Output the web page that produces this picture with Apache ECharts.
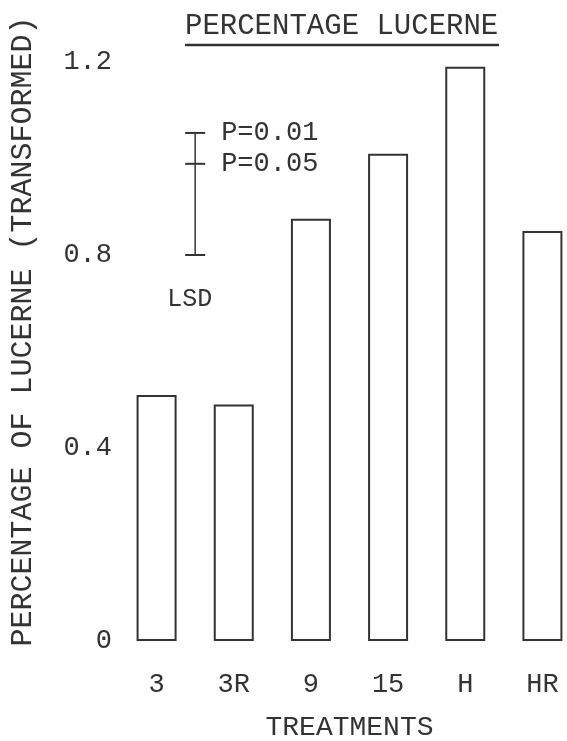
<!DOCTYPE html>
<html>
<head>
<meta charset="utf-8">
<script src="https://cdn.jsdelivr.net/npm/echarts@6/dist/echarts.min.js"></script>
<style>
  html, body { margin: 0; padding: 0; background: #fff; }
  #chart { width: 567px; height: 741px; }
</style>
</head>
<body>
<div id="chart"></div>
<script>
// data
const treatments = ['3', '3R', '9', '15', 'H', 'HR'];
const lucerne = [0.51, 0.49, 0.875, 1.01, 1.19, 0.85];
const yTicks = [0, 0.4, 0.8, 1.2];
// LSD bar: base value, lengths for P=0.01 and P=0.05
const lsdBase = 0.80;
const lsdLengths = [0.253, 0.189];
const lsdLabels = ['P=0.01', 'P=0.05'];

const ink = '#333';
const font = "'Liberation Mono', 'DejaVu Sans Mono', monospace";

const chart = echarts.init(document.getElementById('chart'));

// LSD indicator drawn against the value axis
function renderLsd(params, api) {
	const band = api.size([1, 0])[0];
	const base = api.coord([0, lsdBase]);
	const x = base[0] + band / 2;
	const yTop = api.coord([0, lsdBase + lsdLengths[0]])[1];
	const kids = [{
		type: 'line',
		shape: { x1: x, y1: base[1], x2: x, y2: yTop },
		style: { stroke: ink, lineWidth: 1.5 }
	}, {
		type: 'line',
		shape: { x1: x - 10, y1: base[1], x2: x + 10, y2: base[1] },
		style: { stroke: ink, lineWidth: 2 }
	}];
	lsdLengths.forEach((len, i) => {
		const y = api.coord([0, lsdBase + len])[1];
		kids.push({
			type: 'line',
			shape: { x1: x - 10, y1: y, x2: x + 10, y2: y },
			style: { stroke: ink, lineWidth: 2 }
		});
		kids.push({
			type: 'text',
			x: x + 26, y: y,
			style: { text: lsdLabels[i], fill: ink, font: '27px ' + font, textVerticalAlign: 'middle' }
		});
	});
	const yLsd = api.coord([0, lsdBase - 0.092])[1];
	kids.push({
		type: 'text',
		x: x - 28, y: yLsd,
		style: { text: 'LSD', fill: ink, font: '25px ' + font, textVerticalAlign: 'middle' }
	});
	return { type: 'group', children: kids };
}

const option = {
	animation: false,
	backgroundColor: '#fff',
	title: {
		text: 'PERCENTAGE LUCERNE',
		left: 185,
		top: 12,
		padding: 0,
		textStyle: { fontFamily: font, fontSize: 29, fontWeight: 'normal', color: ink }
	},
	graphic: [{
		type: 'line',
		shape: { x1: 185, y1: 45, x2: 499, y2: 45 },
		style: { stroke: ink, lineWidth: 2.5 }
	}],
	grid: { left: 118, width: 463, top: 62, bottom: 100, outerBoundsMode: 'none' },
	xAxis: {
		type: 'category',
		data: treatments,
		name: 'TREATMENTS',
		nameLocation: 'middle',
		nameGap: 73,
		nameTextStyle: { fontFamily: font, fontSize: 28, color: ink },
		axisLine: { show: false },
		axisTick: { show: false },
		axisLabel: { fontFamily: font, fontSize: 27, color: ink, margin: 30 }
	},
	yAxis: {
		type: 'value',
		min: 0,
		max: 1.2,
		interval: 0.4,
		name: 'PERCENTAGE OF LUCERNE (TRANSFORMED)',
		nameLocation: 'middle',
		nameRotate: 90,
		nameGap: 80,
		nameTextStyle: { fontFamily: font, fontSize: 30, color: ink, padding: [0, 0, 0, 40] },
		axisLine: { show: false },
		axisTick: { show: false },
		splitLine: { show: false },
		axisLabel: {
			fontFamily: font, fontSize: 27, color: ink, margin: 6,
			formatter: v => yTicks.includes(v) ? (v === 0 ? '0' : v.toFixed(1)) : ''
		}
	},
	series: [{
		type: 'bar',
		data: lucerne,
		barWidth: 40,
		itemStyle: { color: '#fff', borderColor: ink, borderWidth: 2 },
		silent: true
	}, {
		type: 'custom',
		data: [[0, lsdBase]],
		renderItem: renderLsd,
		silent: true,
		z: 5
	}]
};

chart.setOption(option);
</script>
</body>
</html>
